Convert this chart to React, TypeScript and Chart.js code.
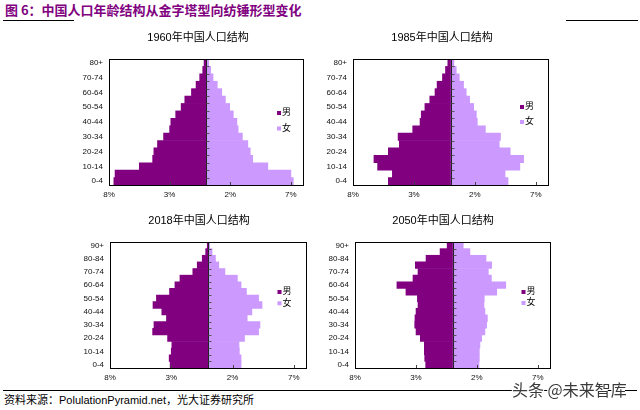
import React, { useEffect, useRef } from "react";
import { Chart, registerables } from "chart.js";

Chart.register(...registerables);

const MALE_COLOR = "#800080";
const FEMALE_COLOR = "#cc99ff";
const FONT_FAMILY = '"Liberation Sans", Arial, "Noto Sans CJK SC", sans-serif';

// Age groups
const ages17 = ["0-4", "5-9", "10-14", "15-19", "20-24", "25-29", "30-34", "35-39", "40-44", "45-49", "50-54", "55-59", "60-64", "65-69", "70-74", "75-79", "80+"];
const ages19 = ["0-4", "5-9", "10-14", "15-19", "20-24", "25-29", "30-34", "35-39", "40-44", "45-49", "50-54", "55-59", "60-64", "65-69", "70-74", "75-79", "80-84", "85-89", "90+"];

// Share of population (%), by age group, bottom (0-4) to top
const male1960 = [7.6, 7.5, 5.5, 4.4, 4.3, 4.0, 3.5, 3.0, 2.9, 2.5, 2.05, 1.75, 1.2, 0.82, 0.52, 0.27, 0.16];
const female1960 = [7.2, 7.0, 5.1, 3.85, 3.65, 3.45, 3.0, 2.65, 2.55, 2.25, 1.95, 1.6, 1.3, 0.93, 0.58, 0.38, 0.22];

const male1985 = [5.1, 4.77, 5.98, 6.28, 5.1, 4.2, 4.3, 3.1, 2.5, 2.4, 2.1, 1.7, 1.27, 1.1, 0.66, 0.41, 0.22];
const female1985 = [4.72, 4.48, 5.69, 6.0, 4.9, 4.0, 4.1, 2.86, 2.2, 2.12, 1.9, 1.57, 1.29, 1.07, 0.72, 0.47, 0.28];

const male2018 = [3.09, 3.17, 3.0, 2.95, 3.3, 4.52, 4.41, 3.39, 3.77, 4.49, 4.21, 3.14, 2.7, 2.29, 1.24, 0.88, 0.47, 0.19, 0.06];
const female2018 = [2.7, 2.7, 2.56, 2.53, 2.98, 4.13, 4.24, 3.2, 3.58, 4.41, 4.13, 3.14, 2.7, 2.4, 1.38, 0.88, 0.61, 0.33, 0.14];

const male2050 = [2.2, 2.28, 2.31, 2.31, 2.64, 2.99, 3.1, 3.08, 2.99, 2.83, 2.88, 3.82, 4.56, 3.24, 2.83, 3.05, 2.17, 1.02, 0.44];
const female2050 = [2.17, 2.2, 2.2, 2.25, 2.39, 2.66, 2.8, 2.86, 2.66, 2.58, 2.61, 3.63, 4.37, 3.19, 2.94, 3.21, 2.75, 1.43, 0.88];

const xTickValues = [-8, -3, 2, 7];
const seriesLabels = ["男", "女"];

type Panel = {
  title: string;
  labels: string[];
  male: number[];
  female: number[];
  left: number;
  top: number;
  padL: number;
  padR: number;
  titleDx: number;
  legendRight: number;
  legendTop: number;
  legendGap: number;
};

const Y_AXIS_WIDTH = 32;

const panels: Panel[] = [
  { title: "1960年中国人口结构", labels: ages17, male: male1960, female: female1960, left: 60, top: 28, padL: 17, padR: 17, titleDx: -8, legendRight: 26, legendTop: 54, legendGap: 15.5 },
  { title: "1985年中国人口结构", labels: ages17, male: male1985, female: female1985, left: 320, top: 28, padL: 1, padR: 32, titleDx: -8.5, legendRight: 28, legendTop: 48, legendGap: 15 },
  { title: "2018年中国人口结构", labels: ages19, male: male2018, female: female2018, left: 60, top: 211, padL: 18, padR: 14, titleDx: -9, legendRight: 28.5, legendTop: 50, legendGap: 11.3 },
  { title: "2050年中国人口结构", labels: ages19, male: male2050, female: female2050, left: 320, top: 211, padL: 3, padR: 30, titleDx: -9.5, legendRight: 28.5, legendTop: 50, legendGap: 11 },
];

const framePlugin = {
  id: "pyramidFrame",
  afterDatasetsDraw(chart: any, _args: any, opts: any) {
    const { ctx, chartArea: a, scales } = chart;
    const xs = scales.x;
    const ys = scales.y;
    ctx.save();
    ctx.lineWidth = 1;
    // centre axis line
    const x0 = Math.round(xs.getPixelForValue(0)) + 0.5;
    ctx.strokeStyle = "#222";
    ctx.beginPath();
    ctx.moveTo(x0, a.top);
    ctx.lineTo(x0, a.bottom);
    ctx.stroke();
    // category boundary tick marks on the centre axis
    const n = chart.data.labels.length;
    ctx.strokeStyle = "#555";
    ctx.beginPath();
    for (let i = 0; i <= n; i++) {
      const py = Math.round(ys.getPixelForValue(i - 0.5)) + 0.5;
      ctx.moveTo(x0, py);
      ctx.lineTo(x0 + 3, py);
    }
    ctx.stroke();
    // inward tick marks on the bottom axis
    ctx.strokeStyle = "#444";
    ctx.beginPath();
    for (const t of xs.ticks) {
      const px = Math.round(xs.getPixelForValue(t.value)) + 0.5;
      ctx.moveTo(px, a.bottom);
      ctx.lineTo(px, a.bottom - 3);
    }
    ctx.stroke();
    // frame
    ctx.strokeStyle = "#000";
    const l = Math.round(a.left) + 0.5;
    const t = Math.round(a.top) + 0.5;
    ctx.strokeRect(l, t, Math.round(a.right) - Math.round(a.left), Math.round(a.bottom) - Math.round(a.top));
    // legend
    const mx = a.right - opts.legendRight;
    ctx.font = `9px ${FONT_FAMILY}`;
    ctx.textBaseline = "middle";
    ctx.textAlign = "left";
    chart.data.datasets.forEach((ds: any, i: number) => {
      const cy = a.top + opts.legendTop + i * opts.legendGap;
      ctx.fillStyle = ds.backgroundColor;
      ctx.fillRect(mx, cy - 2, 4, 4);
      ctx.fillStyle = "#000";
      ctx.fillText(ds.label, mx + 5, cy);
    });
    // panel title
    ctx.font = `11px ${FONT_FAMILY}`;
    ctx.textAlign = "center";
    ctx.fillStyle = "#000";
    ctx.fillText(opts.title, (a.left + a.right) / 2 + opts.titleDx, a.top - 21);
    ctx.restore();
  },
};

function Pyramid({ panel }: { panel: Panel }) {
  const ref = useRef<HTMLCanvasElement>(null);
  useEffect(() => {
    const chart = new Chart(ref.current as HTMLCanvasElement, {
      type: "bar",
      data: {
        labels: panel.labels,
        datasets: [
          { label: seriesLabels[0], data: panel.male.map((v) => -v), backgroundColor: MALE_COLOR, borderWidth: 0, barPercentage: 1, categoryPercentage: 1 },
          { label: seriesLabels[1], data: panel.female, backgroundColor: FEMALE_COLOR, borderWidth: 0, barPercentage: 1, categoryPercentage: 1 },
        ],
      },
      options: {
        indexAxis: "y",
        animation: false,
        responsive: false,
        events: [],
        font: { family: FONT_FAMILY },
        layout: { padding: { left: panel.padL, right: panel.padR, top: 31, bottom: 4 } },
        plugins: {
          legend: { display: false },
          tooltip: { enabled: false },
          title: { display: false },
          pyramidFrame: {
            title: panel.title,
            titleDx: panel.titleDx,
            legendRight: panel.legendRight,
            legendTop: panel.legendTop,
            legendGap: panel.legendGap,
          },
        } as any,
        scales: {
          x: {
            type: "linear",
            min: -8,
            max: 8,
            stacked: true,
            grid: { display: false, drawTicks: false },
            border: { display: false },
            afterBuildTicks: (s: any) => {
              s.ticks = xTickValues.map((v) => ({ value: v }));
            },
            afterFit: (s: any) => {
              s.height = 14;
            },
            ticks: {
              autoSkip: false,
              maxRotation: 0,
              padding: 5,
              color: "#111",
              font: { size: 8, family: FONT_FAMILY },
              callback: (v: any) => Math.abs(Number(v)) + "%",
            },
          },
          y: {
            type: "category",
            reverse: true,
            stacked: true,
            grid: { display: false, drawTicks: false },
            border: { display: false },
            afterFit: (s: any) => {
              s.width = Y_AXIS_WIDTH;
            },
            ticks: {
              autoSkip: false,
              padding: 6,
              color: "#111",
              font: { size: 8, family: FONT_FAMILY },
              callback: function (this: any, val: any, i: number) {
                return i % 2 === 0 ? this.getLabelForValue(val) : "";
              },
            },
          },
        } as any,
      } as any,
      plugins: [framePlugin],
    });
    return () => chart.destroy();
  }, [panel]);
  return (
    <canvas
      ref={ref}
      width={260}
      height={175}
      style={{ position: "absolute", left: panel.left, top: panel.top, width: 260, height: 175 }}
    />
  );
}

export default function App() {
  return (
    <div style={{ position: "absolute", left: 0, top: 0, width: 640, height: 410, background: "#fff", overflow: "hidden" }}>
      <div
        style={{
          position: "absolute",
          left: 5,
          top: 2,
          fontSize: 13,
          lineHeight: "16px",
          fontWeight: 700,
          color: "#800080",
          fontFamily: '"Noto Sans CJK SC", sans-serif',
          whiteSpace: "nowrap",
        }}
      >
        图 6：中国人口年龄结构从金字塔型向纺锤形型变化
      </div>
      <div style={{ position: "absolute", left: 3, top: 20, width: 71, height: 0, borderTop: "1.5px solid #000" }} />
      <div style={{ position: "absolute", left: 566, top: 20, width: 72, height: 0, borderTop: "1.5px solid #000" }} />
      {panels.map((p) => (
        <Pyramid key={p.title} panel={p} />
      ))}
      <div style={{ position: "absolute", left: 3, top: 390, width: 634, height: 0, borderTop: "1px solid #000" }} />
      <div
        style={{
          position: "absolute",
          left: 4,
          top: 393,
          fontSize: 11,
          lineHeight: "14px",
          color: "#000",
          fontFamily: FONT_FAMILY,
          whiteSpace: "nowrap",
        }}
      >
        资料来源：PolulationPyramid.net，光大证券研究所
      </div>
      <div
        style={{
          position: "absolute",
          left: 512,
          top: 379,
          fontSize: 16,
          lineHeight: "20px",
          color: "#3a3a3a",
          fontFamily: '"Noto Sans CJK SC", sans-serif',
          whiteSpace: "nowrap",
          textShadow: "1px 0 0 #fff, -1px 0 0 #fff, 0 1px 0 #fff, 0 -1px 0 #fff, 1px 1px 0 #fff, -1px -1px 0 #fff",
        }}
      >
        头条 @未来智库
      </div>
    </div>
  );
}
